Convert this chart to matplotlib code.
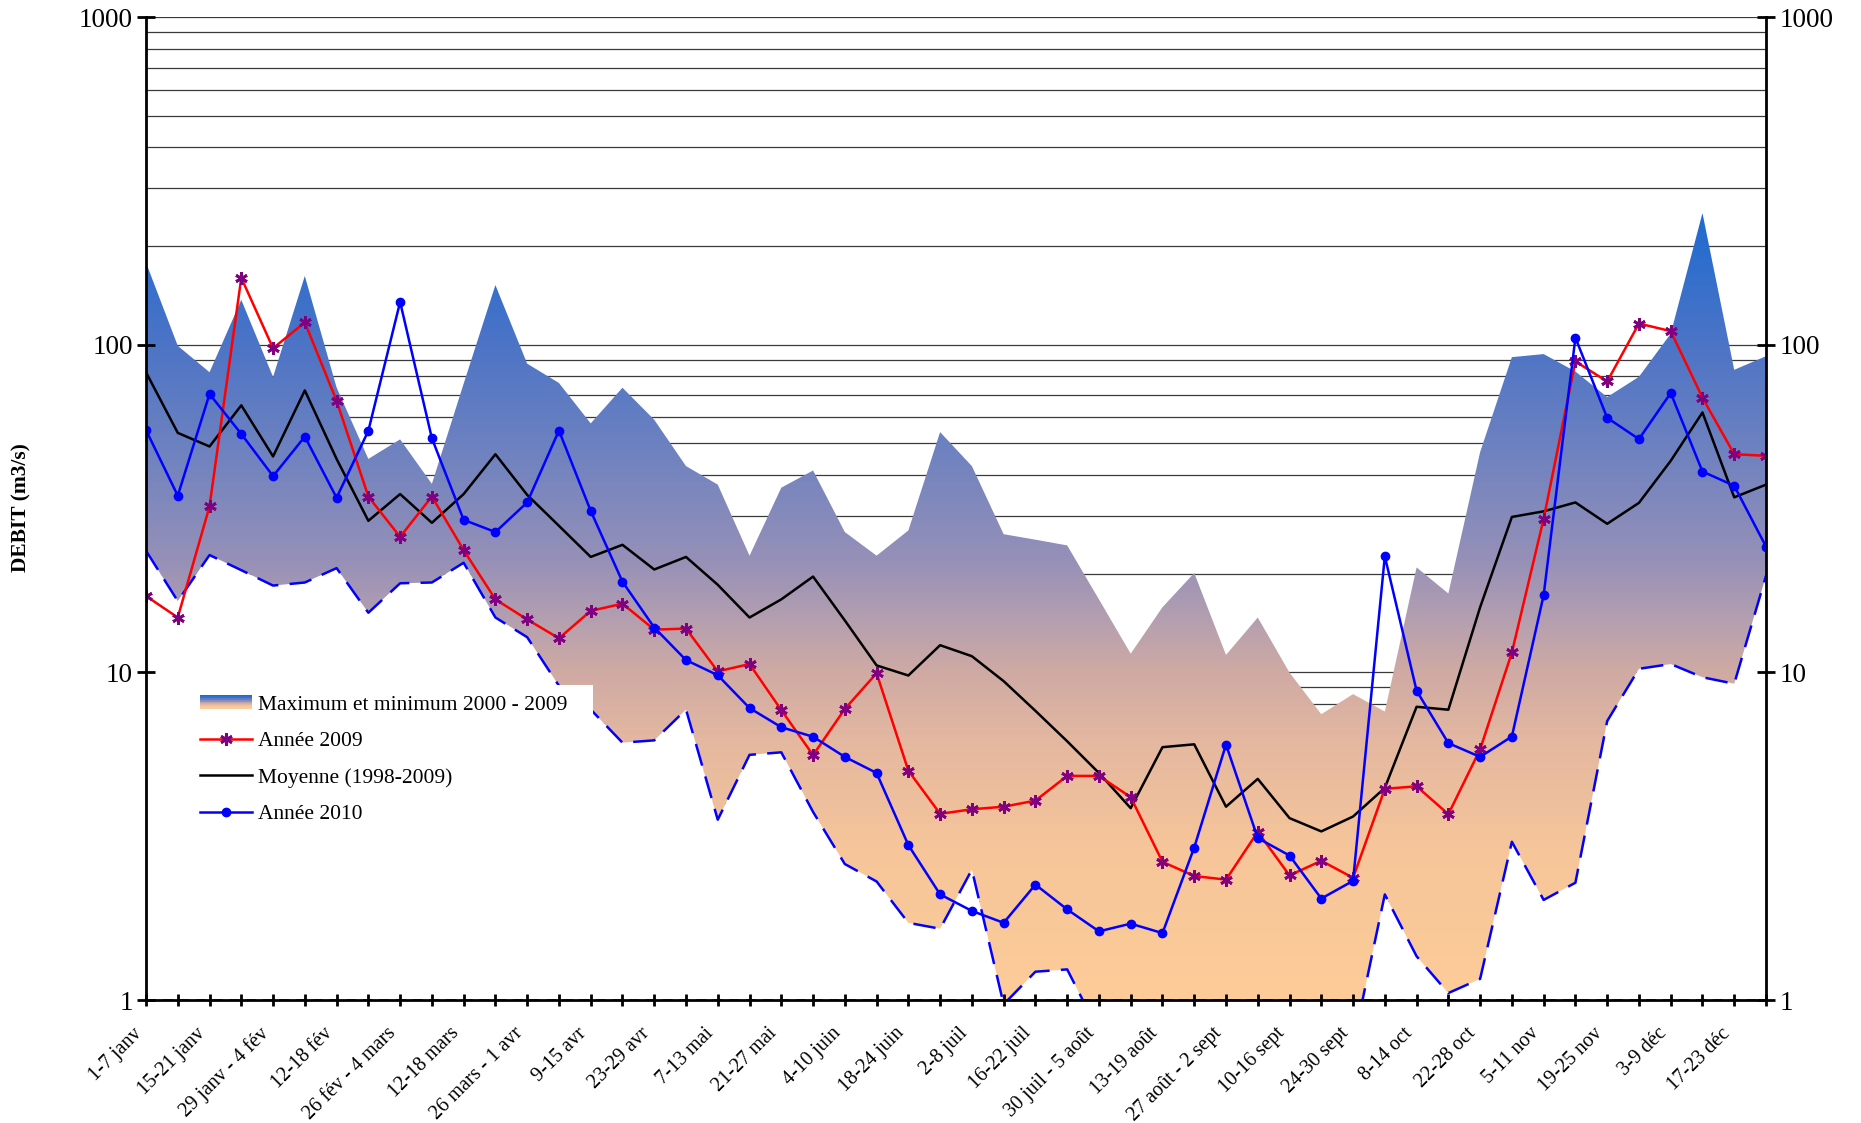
import numpy as np
import matplotlib
matplotlib.use("Agg")
import matplotlib.pyplot as plt
from matplotlib.colors import LinearSegmentedColormap
from matplotlib.patches import Polygon, Rectangle
from matplotlib.legend_handler import HandlerBase
from matplotlib.lines import Line2D
from matplotlib.ticker import FixedLocator
from matplotlib.transforms import ScaledTranslation

plt.rcParams['font.family'] = ['Liberation Serif', 'DejaVu Serif']

# ---------------- data ----------------
week_labels = ["1-7 janv", "", "15-21 janv", "", "29 janv - 4 fév", "", "12-18 fév", "",
               "26 fév - 4 mars", "", "12-18 mars", "", "26 mars - 1 avr", "", "9-15 avr", "",
               "23-29 avr", "", "7-13 mai", "", "21-27 mai", "", "4-10 juin", "",
               "18-24 juin", "", "2-8 juil", "", "16-22 juil", "", "30 juil - 5 août", "",
               "13-19 août", "", "27 août - 2 sept", "", "10-16 sept", "", "24-30 sept", "",
               "8-14 oct", "", "22-28 oct", "", "5-11 nov", "", "19-25 nov", "",
               "3-9 déc", "", "17-23 déc", ""]

max_2000_2009 = [178, 99.2, 82.4, 137, 79.7, 162, 74, 44.8, 51.4, 37.6,
                 76, 152, 87.5, 76.4, 57.5, 73.9, 59, 42.6, 37.4, 22.7,
                 36.6, 41.3, 26.8, 22.7, 27.1, 54.1, 42.6, 26.4, 25.4, 24.4,
                 16.7, 11.4, 15.8, 20.1, 11.3, 14.7, 9.98, 7.45, 8.58, 7.59,
                 20.9, 17.4, 47, 91.6, 93.6, 82.8, 69.2, 79.8, 108, 252,
                 83.8, 92.2]

min_2000_2009 = [23.5, 16.5, 22.8, 20.5, 18.4, 18.8, 20.8, 15.2, 18.7, 18.8,
                 21.6, 14.7, 12.8, 9.1, 7.7, 6.1, 6.2, 7.7, 3.55, 5.6,
                 5.7, 3.75, 2.6, 2.3, 1.72, 1.65, 2.5, 0.97, 1.22, 1.24,
                 0.8, 0.5, 0.5, 0.5, 0.5, 0.5, 0.5, 0.5, 0.73, 2.1,
                 1.36, 1.05, 1.16, 3.04, 2.02, 2.28, 7.1, 10.25, 10.6, 9.66,
                 9.23, 19.7]

annee_2009 = [17.1, 14.7, 32.1, 160, 97.5, 117, 67.4, 34.4, 25.9, 34.4,
              23.6, 16.7, 14.5, 12.7, 15.4, 16.2, 13.5, 13.6, 10.07, 10.6,
              7.67, 5.59, 7.73, 9.94, 5.01, 3.70, 3.82, 3.89, 4.06, 4.83,
              4.83, 4.16, 2.64, 2.39, 2.33, 3.26, 2.40, 2.66, 2.36, 4.41,
              4.49, 3.69, 5.82, 11.5, 29.4, 88.9, 77.2, 116, 110, 68.9,
              46.3, 45.8]

moyenne_1998_2009 = [82.4, 53.8, 48.9, 65.3, 45.6, 72.5, 44.8, 29, 35, 28.6,
                     35, 46.3, 34.8, 28, 22.5, 24.5, 20.6, 22.5, 18.5, 14.7,
                     16.7, 19.6, 14.4, 10.5, 9.78, 12.1, 11.2, 9.4, 7.63, 6.16,
                     4.93, 3.85, 5.91, 6.03, 3.89, 4.73, 3.59, 3.27, 3.63, 4.44,
                     7.85, 7.69, 15.8, 29.8, 31, 33, 28.4, 32.9, 44.2, 62.1,
                     34.2, 37.4]

annee_2010 = [54.9, 34.6, 70.7, 53.4, 39.7, 52.4, 34.1, 54.6, 135, 51.8,
              29.2, 26.8, 33, 54.7, 31.1, 18.9, 13.7, 10.9, 9.8, 7.78,
              6.8, 6.36, 5.52, 4.93, 2.97, 2.1, 1.87, 1.72, 2.25, 1.89,
              1.62, 1.71, 1.60, 2.92, 6.02, 3.12, 2.76, 2.04, 2.31, 22.6,
              8.79, 6.08, 5.52, 6.37, 17.2, 105, 59.8, 51.5, 71.2, 41,
              37.1, 24.2]

legend_labels = ["Maximum et minimum 2000 - 2009", "Année 2009",
                 "Moyenne (1998-2009)", "Année 2010"]
y_label = "DEBIT (m3/s)"

# gradient colour stops (axes fraction -> colour)
grad_stops = [(0.0, "#fdcc98"), (0.153, "#f6c59a"), (0.254, "#e6b9a0"),
              (0.334, "#cfaaa4"), (0.387, "#b49fb0"), (0.448, "#9690b8"),
              (0.56, "#6e82c0"), (0.666, "#4d74c6"), (0.80, "#1e6bd0"),
              (1.0, "#1e6bd0")]
grad_cmap = LinearSegmentedColormap.from_list("grad", grad_stops)

# ---------------- figure ----------------
W, H = 1861, 1123
fig = plt.figure(figsize=(W / 100, H / 100), dpi=100)
ax = fig.add_axes([146 / W, 1 - 1000 / H, (1766 - 146) / W, (1000 - 17) / H])

x = np.arange(len(max_2000_2009))
ax.set_yscale('log')

# gridlines (behind fills)
grid_vals = [m * 10 ** e for e in range(0, 3) for m in range(1, 10)] + [1000]
for gv in grid_vals:
    ax.axhline(gv, color='#3a3a3a', lw=0.9, zorder=0.5)

# white area below the minimum (covers grid)
lo = 0.3
white_verts = np.column_stack([np.concatenate([x, x[::-1]]),
                               np.concatenate([min_2000_2009, np.full(len(x), lo)])])
ax.add_patch(Polygon(white_verts, closed=True, facecolor='white', edgecolor='none',
                     zorder=1, transform=ax.transData))

# gradient between min and max
band_verts = np.column_stack([np.concatenate([x, x[::-1]]),
                              np.concatenate([max_2000_2009, np.array(min_2000_2009)[::-1]])])
band = Polygon(band_verts, closed=True, facecolor='none', edgecolor='none',
               transform=ax.transData)
ax.add_patch(band)
grad = np.linspace(0, 1, 512).reshape(-1, 1)
im = ax.imshow(grad, cmap=grad_cmap, origin='lower', aspect='auto',
               extent=[0, 1, 0, 1], transform=ax.transAxes, zorder=1.5,
               interpolation='bilinear')
im.set_clip_path(band)
ax.set_xlim(0, len(x) - 1)
ax.set_ylim(1, 1000)

# dashed min line and baseline
ax.plot(x, min_2000_2009, color='#0000ff', lw=1.8, dashes=(9, 4.5), zorder=2)
ax.plot(x, np.ones(len(x)), color='#0000ff', lw=1.2, dashes=(6, 4), zorder=2.1,
        clip_on=False)

# series
ax.plot(x, moyenne_1998_2009, color='black', lw=1.8, zorder=3)
ax.plot(x, annee_2009, color='#ff0000', lw=1.8, zorder=4,
        marker=(6, 2, 0), markersize=9, markeredgewidth=2.0,
        markeredgecolor='#800080', markerfacecolor='#800080')
ax.plot(x, annee_2010, color='#0000ff', lw=1.8, zorder=5,
        marker='o', markersize=6, markeredgecolor='#0000ff', markerfacecolor='#0000ff')

# spines
ax.spines['top'].set_visible(False)
for s in ['left', 'right', 'bottom']:
    ax.spines[s].set_linewidth(2.0)
    ax.spines[s].set_zorder(6)

# y ticks
ax.yaxis.set_major_locator(FixedLocator([1, 10, 100, 1000]))
ax.yaxis.set_minor_locator(FixedLocator([]))
ax.set_yticklabels(["1", "10", "100", "1000"])
ax.tick_params(axis='y', which='major', direction='inout', length=13, width=2,
               labelsize=19.5, left=True, right=True, labelleft=True, labelright=True,
               pad=3)

# x ticks
ax.set_xticks(x)
ax.set_xticklabels(week_labels, rotation=45, ha='right', va='center',
                   rotation_mode='anchor', fontsize=14.5)
ax.tick_params(axis='x', which='major', direction='inout', length=9, width=2, pad=14)
shift = ScaledTranslation(-7 / 100, -5 / 100, fig.dpi_scale_trans)
for lab in ax.get_xticklabels():
    lab.set_transform(lab.get_transform() + shift)

fig.text(21 / W, 1 - 508 / H, y_label, rotation=90, fontsize=15.5, fontweight='bold',
         ha='center', va='center')

# white background block of the legend area
ax.add_patch(Rectangle((195 / W, 1 - 832 / H), (593 - 195) / W, (832 - 685) / H,
                       transform=fig.transFigure, facecolor='white', edgecolor='none',
                       zorder=6.5))

# legend
class HandlerGradient(HandlerBase):
    def create_artists(self, legend, orig_handle, xdescent, ydescent, width, height,
                       fontsize, trans):
        arts = []
        n = 20
        for k in range(n):
            t = k / (n - 1)
            col = grad_cmap(0.85 - 0.85 * t)
            r = Rectangle((-xdescent, -ydescent + height * 0.9 * (1 - (k + 1) / n) + height * 0.05),
                          width, height * 0.9 / n + 0.3, facecolor=col, edgecolor='none',
                          transform=trans)
            arts.append(r)
        return arts

grad_handle = Rectangle((0, 0), 1, 1)
h2009 = Line2D([], [], color='#ff0000', lw=1.8, marker=(6, 2, 0), markersize=9,
               markeredgewidth=2.0, markeredgecolor='#800080', markerfacecolor='#800080')
hmoy = Line2D([], [], color='black', lw=1.8)
h2010 = Line2D([], [], color='#0000ff', lw=1.8, marker='o', markersize=6)
leg = ax.legend([grad_handle, h2009, hmoy, h2010], legend_labels,
                handler_map={Rectangle: HandlerGradient()},
                loc='upper left', bbox_to_anchor=((190 - 146) / (1766 - 146), (1000 - 685) / 983),
                fontsize=15.5, frameon=True, facecolor='white', edgecolor='none',
                framealpha=1, fancybox=False, handlelength=2.45, handletextpad=0.25,
                labelspacing=0.76, borderpad=0.45, borderaxespad=0)
leg.set_zorder(7)
leg.get_frame().set_linewidth(0)

fig.savefig("out.png", dpi=100)
